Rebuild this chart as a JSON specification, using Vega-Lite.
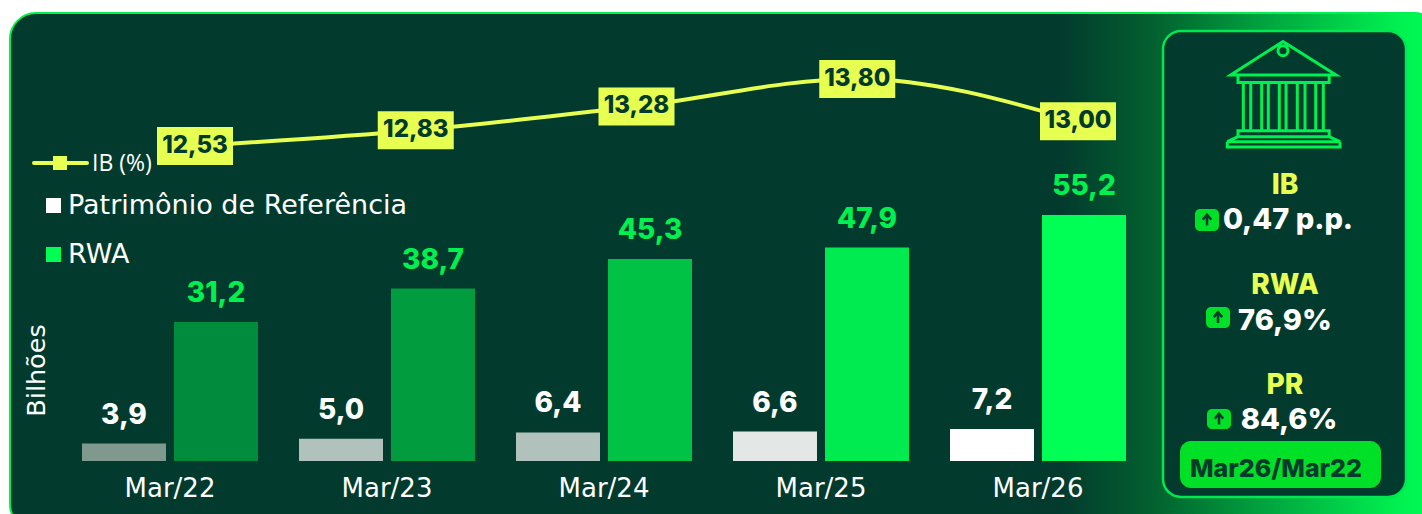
{
"$schema":"https://vega.github.io/schema/vega-lite/v6.json",
"width":1422,"height":514,"padding":0,"autosize":{"type":"none"},"background":"#ffffff",
"config":{"view":{"stroke":null},"text":{"font":"Inter"},"axis":{"labelFont":"DejaVu Sans","titleFont":"DejaVu Sans"}},
"datasets":{
"barras":[
{"periodo":"Mar/22","serie":"PR","barra":"PR Mar/22","valor":3.9,"rotulo":"3,9"},
{"periodo":"Mar/22","serie":"RWA","barra":"RWA Mar/22","valor":31.2,"rotulo":"31,2"},
{"periodo":"Mar/23","serie":"PR","barra":"PR Mar/23","valor":5.0,"rotulo":"5,0"},
{"periodo":"Mar/23","serie":"RWA","barra":"RWA Mar/23","valor":38.7,"rotulo":"38,7"},
{"periodo":"Mar/24","serie":"PR","barra":"PR Mar/24","valor":6.4,"rotulo":"6,4"},
{"periodo":"Mar/24","serie":"RWA","barra":"RWA Mar/24","valor":45.3,"rotulo":"45,3"},
{"periodo":"Mar/25","serie":"PR","barra":"PR Mar/25","valor":6.6,"rotulo":"6,6"},
{"periodo":"Mar/25","serie":"RWA","barra":"RWA Mar/25","valor":47.9,"rotulo":"47,9"},
{"periodo":"Mar/26","serie":"PR","barra":"PR Mar/26","valor":7.2,"rotulo":"7,2"},
{"periodo":"Mar/26","serie":"RWA","barra":"RWA Mar/26","valor":55.2,"rotulo":"55,2"}
],
"linha":[
{"periodo":"Mar/22","ib":12.53,"rotulo":"12,53"},
{"periodo":"Mar/23","ib":12.83,"rotulo":"12,83"},
{"periodo":"Mar/24","ib":13.28,"rotulo":"13,28"},
{"periodo":"Mar/25","ib":13.80,"rotulo":"13,80"},
{"periodo":"Mar/26","ib":13.00,"rotulo":"13,00"}
],
"kpi":[
{"indicador":"IB","variacao":"0,47 p.p."},
{"indicador":"RWA","variacao":"76,9%"},
{"indicador":"PR","variacao":"84,6%"}
]
},
"resolve":{"scale":{"x":"independent","y":"independent","color":"independent"},"axis":{"x":"independent","y":"independent"}},
"layer":[
{"data":{"values":[{"painel":"fundo"}]},
 "mark":{"type":"rect","cornerRadius":26,"stroke":"#00f050","strokeWidth":2,
  "fill":{"gradient":"linear","x1":0,"y1":0,"x2":1,"y2":0,"stops":[{"offset":0,"color":"#023b2d"},{"offset":0.735,"color":"#023b2d"},{"offset":0.80,"color":"#02612f"},{"offset":0.88,"color":"#00a63f"},{"offset":0.97,"color":"#00f050"},{"offset":1,"color":"#00ff55"}]}},
 "encoding":{"x":{"datum":10,"axis":null,"scale":{"domain":[0,1422],"range":[0,1422]}},"x2":{"datum":1440},"y":{"datum":13,"axis":null,"scale":{"domain":[0,514],"range":[0,514]}},"y2":{"datum":530}}},
{"data":{"values":[{"painel":"kpi"}]},
 "mark":{"type":"rect","cornerRadius":18,"fill":"#023b2d","stroke":"#00e850","strokeWidth":2.5},
 "encoding":{"x":{"datum":1163,"axis":null,"scale":{"domain":[0,1422],"range":[0,1422]}},"x2":{"datum":1406},"y":{"datum":31,"axis":null,"scale":{"domain":[0,514],"range":[0,514]}},"y2":{"datum":497}}},
{"data":{"values":[{"painel":"periodo"}]},
 "mark":{"type":"rect","cornerRadius":11,"fill":"#00e026"},
 "encoding":{"x":{"datum":1180,"axis":null,"scale":{"domain":[0,1422],"range":[0,1422]}},"x2":{"datum":1381},"y":{"datum":441,"axis":null,"scale":{"domain":[0,514],"range":[0,514]}},"y2":{"datum":488}}},
{"data":{"values":[{"rotulo":"Mar26/Mar22"}]},
 "mark":{"type":"text","fontSize":25,"fontWeight":800,"color":"#023b2d","align":"center","baseline":"middle"},
 "encoding":{"text":{"field":"rotulo"},"x":{"datum":1276,"axis":null,"scale":{"domain":[0,1422],"range":[0,1422]}},"y":{"datum":469,"axis":null,"scale":{"domain":[0,514],"range":[0,514]}}}},
{"data":{"values":[{"icone":"banco"}]},
 "mark":{"type":"point","filled":false,"size":12996,"stroke":"#00f050","strokeWidth":3,"opacity":1,
  "shape":"M0 -0.92 L-0.918 -0.333 L0.93 -0.333 Z M-0.088 -0.76 A0.088 0.088 0 1 0 0.088 -0.76 A0.088 0.088 0 1 0 -0.088 -0.76 Z M-0.79 -0.333 L-0.79 -0.2 L0.81 -0.2 L0.81 -0.333 M-0.696 -0.2 L-0.696 0.644 M-0.566 -0.2 L-0.566 0.644 M-0.374 -0.2 L-0.374 0.644 M-0.258 -0.2 L-0.258 0.644 M-0.065 -0.2 L-0.065 0.644 M0.053 -0.2 L0.053 0.644 M0.251 -0.2 L0.251 0.644 M0.386 -0.2 L0.386 0.644 M0.574 -0.2 L0.574 0.644 M0.707 -0.2 L0.707 0.644 M-0.79 0.644 L0.81 0.644 L0.81 0.749 L-0.79 0.749 Z M-0.79 0.749 L-0.977 0.837 L1 0.837 L0.81 0.749 M-0.977 0.837 L-0.977 0.93 L1 0.93 L1 0.837"},
 "encoding":{"x":{"datum":1283,"axis":null,"scale":{"domain":[0,1422],"range":[0,1422]}},"y":{"datum":94,"axis":null,"scale":{"domain":[0,514],"range":[0,514]}}}},
{"data":{"name":"kpi"},
 "layer":[
  {"mark":{"type":"text","fontSize":28,"fontWeight":800,"color":"#e6ff50","align":"center","baseline":"middle"},
   "encoding":{"text":{"field":"indicador"}}},
  {"transform":[{"filter":"datum.indicador==='IB'"}],"mark":{"type":"text","fontSize":29,"fontWeight":800,"color":"#ffffff","align":"center","baseline":"middle","dx":3,"dy":34},"encoding":{"text":{"field":"variacao"}}},
  {"transform":[{"filter":"datum.indicador==='RWA'"}],"mark":{"type":"text","fontSize":29,"fontWeight":800,"color":"#ffffff","align":"center","baseline":"middle","dx":0,"dy":35},"encoding":{"text":{"field":"variacao"}}},
  {"transform":[{"filter":"datum.indicador==='PR'"}],"mark":{"type":"text","fontSize":29,"fontWeight":800,"color":"#ffffff","align":"center","baseline":"middle","dx":4,"dy":34},"encoding":{"text":{"field":"variacao"}}}
 ],
 "encoding":{"x":{"field":"indicador","type":"nominal","axis":null,"sort":null,"scale":{"type":"point","domain":["IB","RWA","PR"],"range":[1285,1285],"padding":0}},
  "y":{"field":"indicador","type":"nominal","axis":null,"sort":null,"scale":{"type":"point","domain":["IB","RWA","PR"],"range":[186,386],"padding":0}}}},
{"data":{"values":[{"seta":"IB"}]},
 "layer":[
  {"mark":{"type":"rect","cornerRadius":5,"fill":"#00e026"},"encoding":{"x":{"datum":1195,"axis":null,"scale":{"domain":[0,1422],"range":[0,1422]}},"x2":{"datum":1219},"y":{"datum":209,"axis":null,"scale":{"domain":[0,514],"range":[0,514]}},"y2":{"datum":231}}},
  {"mark":{"type":"point","filled":false,"size":196,"stroke":"#023b2d","strokeWidth":2.5,"opacity":1,"shape":"M0 -0.75 L0 0.8 M-0.6 -0.05 L0 -0.75 L0.6 -0.05"},"encoding":{"x":{"datum":1207,"axis":null,"scale":{"domain":[0,1422],"range":[0,1422]}},"y":{"datum":220,"axis":null,"scale":{"domain":[0,514],"range":[0,514]}}}}
 ]},
{"data":{"values":[{"seta":"RWA"}]},
 "layer":[
  {"mark":{"type":"rect","cornerRadius":5,"fill":"#00e026"},"encoding":{"x":{"datum":1206,"axis":null,"scale":{"domain":[0,1422],"range":[0,1422]}},"x2":{"datum":1230},"y":{"datum":307,"axis":null,"scale":{"domain":[0,514],"range":[0,514]}},"y2":{"datum":328}}},
  {"mark":{"type":"point","filled":false,"size":196,"stroke":"#023b2d","strokeWidth":2.5,"opacity":1,"shape":"M0 -0.75 L0 0.8 M-0.6 -0.05 L0 -0.75 L0.6 -0.05"},"encoding":{"x":{"datum":1218,"axis":null,"scale":{"domain":[0,1422],"range":[0,1422]}},"y":{"datum":317.5,"axis":null,"scale":{"domain":[0,514],"range":[0,514]}}}}
 ]},
{"data":{"values":[{"seta":"PR"}]},
 "layer":[
  {"mark":{"type":"rect","cornerRadius":5,"fill":"#00e026"},"encoding":{"x":{"datum":1207,"axis":null,"scale":{"domain":[0,1422],"range":[0,1422]}},"x2":{"datum":1231},"y":{"datum":409,"axis":null,"scale":{"domain":[0,514],"range":[0,514]}},"y2":{"datum":429}}},
  {"mark":{"type":"point","filled":false,"size":196,"stroke":"#023b2d","strokeWidth":2.5,"opacity":1,"shape":"M0 -0.75 L0 0.8 M-0.6 -0.05 L0 -0.75 L0.6 -0.05"},"encoding":{"x":{"datum":1219,"axis":null,"scale":{"domain":[0,1422],"range":[0,1422]}},"y":{"datum":419,"axis":null,"scale":{"domain":[0,514],"range":[0,514]}}}}
 ]},
{"data":{"values":[{"item":"IB (%)"}]},"mark":{"type":"rule","stroke":"#e6ff50","strokeWidth":4,"strokeCap":"round"},
 "encoding":{"x":{"datum":34,"axis":null,"scale":{"domain":[0,1422],"range":[0,1422]}},"x2":{"datum":87},"y":{"datum":163,"axis":null,"scale":{"domain":[0,514],"range":[0,514]}}}},
{"data":{"values":[{"item":"IB (%)"}]},"mark":{"type":"rect","fill":"#e6ff50"},
 "encoding":{"x":{"datum":53,"axis":null,"scale":{"domain":[0,1422],"range":[0,1422]}},"x2":{"datum":67},"y":{"datum":156,"axis":null,"scale":{"domain":[0,514],"range":[0,514]}},"y2":{"datum":170}}},
{"data":{"values":[{"item":"IB (%)"}]},"mark":{"type":"text","font":"Open Sans","fontSize":23,"color":"#ffffff","align":"left","baseline":"middle"},
 "encoding":{"text":{"field":"item"},"x":{"datum":92,"axis":null,"scale":{"domain":[0,1422],"range":[0,1422]}},"y":{"datum":164,"axis":null,"scale":{"domain":[0,514],"range":[0,514]}}}},
{"data":{"values":[{"item":"Patrimônio de Referência"}]},"mark":{"type":"rect","fill":"#ffffff"},
 "encoding":{"x":{"datum":46,"axis":null,"scale":{"domain":[0,1422],"range":[0,1422]}},"x2":{"datum":61},"y":{"datum":198,"axis":null,"scale":{"domain":[0,514],"range":[0,514]}},"y2":{"datum":213}}},
{"data":{"values":[{"item":"Patrimônio de Referência"}]},"mark":{"type":"text","font":"DejaVu Sans","fontSize":27,"fontWeight":400,"color":"#ffffff","align":"left","baseline":"middle"},
 "encoding":{"text":{"field":"item"},"x":{"datum":68,"axis":null,"scale":{"domain":[0,1422],"range":[0,1422]}},"y":{"datum":206,"axis":null,"scale":{"domain":[0,514],"range":[0,514]}}}},
{"data":{"values":[{"item":"RWA"}]},"mark":{"type":"rect","fill":"#00ff55"},
 "encoding":{"x":{"datum":46,"axis":null,"scale":{"domain":[0,1422],"range":[0,1422]}},"x2":{"datum":61},"y":{"datum":247,"axis":null,"scale":{"domain":[0,514],"range":[0,514]}},"y2":{"datum":262}}},
{"data":{"values":[{"item":"RWA"}]},"mark":{"type":"text","font":"DejaVu Sans","fontSize":27,"fontWeight":400,"color":"#ffffff","align":"left","baseline":"middle"},
 "encoding":{"text":{"field":"item"},"x":{"datum":68,"axis":null,"scale":{"domain":[0,1422],"range":[0,1422]}},"y":{"datum":255,"axis":null,"scale":{"domain":[0,514],"range":[0,514]}}}},
{"data":{"name":"barras"},
 "encoding":{
  "x":{"field":"periodo","type":"nominal","sort":null,"title":null,
   "scale":{"domain":["Mar/22","Mar/23","Mar/24","Mar/25","Mar/26"],"range":[61.5,1146.5],"paddingInner":0.189,"paddingOuter":0.0945},
   "axis":{"orient":"bottom","offset":-39,"zindex":1,"domain":false,"ticks":false,"labelPadding":0,"labelAngle":0,"labelFontSize":26,"labelColor":"#ffffff","labelFontWeight":400,"grid":false}},
  "xOffset":{"field":"serie","type":"nominal","sort":null,"scale":{"domain":["PR","RWA"],"paddingInner":0.087}},
  "y":{"field":"valor","type":"quantitative","title":"Bilhões",
   "scale":{"domain":[0,100],"range":[461,15.3],"nice":false,"zero":true},
   "axis":{"orient":"left","zindex":1,"domain":false,"ticks":false,"labels":false,"grid":false,"titleX":36,"titleY":370,"titleAngle":-90,"titleAlign":"center","titleBaseline":"middle","titleFontSize":25.5,"titleFontWeight":400,"titleColor":"#ffffff"}}
 },
 "layer":[
  {"mark":{"type":"bar","stroke":null},
   "encoding":{"color":{"field":"barra","type":"nominal","legend":null,"scale":{
     "domain":["PR Mar/22","PR Mar/23","PR Mar/24","PR Mar/25","PR Mar/26","RWA Mar/22","RWA Mar/23","RWA Mar/24","RWA Mar/25","RWA Mar/26"],
     "range":["#80998f","#b1c2bd","#b1c2bd","#e3e8e6","#ffffff","#008c3c","#009c3e","#00c245","#00eb4f","#00ff55"]}}}},
  {"mark":{"type":"text","fontSize":28,"fontWeight":800,"align":"center","baseline":"middle","dy":-28},
   "encoding":{"text":{"field":"rotulo"},"color":{"condition":{"test":"datum.serie==='RWA'","value":"#00f050"},"value":"#ffffff"}}}
 ]},
{"data":{"name":"linha"},
 "encoding":{
  "x":{"field":"periodo","type":"nominal","sort":null,"axis":null,"scale":{"type":"point","domain":["Mar/22","Mar/23","Mar/24","Mar/25","Mar/26"],"range":[195,1078],"padding":0}},
  "y":{"field":"ib","type":"quantitative","axis":null,"scale":{"domain":[12,14],"range":[174,68.4],"nice":false,"zero":false}}
 },
 "layer":[
  {"mark":{"type":"line","stroke":"#e6ff50","strokeWidth":4,"interpolate":"monotone"}},
  {"mark":{"type":"rect","fill":"#e6ff50","width":76,"height":38}},
  {"mark":{"type":"text","fontSize":24,"fontWeight":800,"color":"#023b2d","align":"center","baseline":"middle"},"encoding":{"text":{"field":"rotulo"}}}
 ]}
]
}
